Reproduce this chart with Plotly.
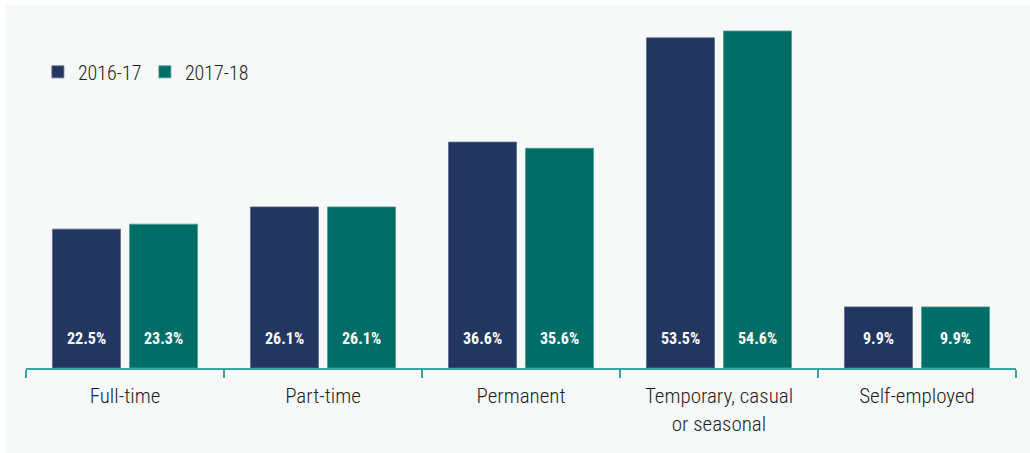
import plotly.graph_objects as go

categories = ["Full-time", "Part-time", "Permanent",
              "Temporary, casual<br>or seasonal", "Self-employed"]
series_names = ["2016-17", "2017-18"]
values_2016_17 = [22.5, 26.1, 36.6, 53.5, 9.9]
values_2017_18 = [23.3, 26.1, 35.6, 54.6, 9.9]

colors = ["#22365f", "#006e67"]
edge_colors = ["#5b6a8c", "#4f9a94"]
axis_color = "#3aa3a3"
panel_color = "#f7f9f9"
font_family = "Roboto Condensed, DejaVu Sans Condensed, sans-serif"

W, H = 1030, 453
margin = dict(l=26, r=14, t=20, b=85)

fig = go.Figure()
for name, vals, col, edge in zip(series_names, [values_2016_17, values_2017_18], colors, edge_colors):
    fig.add_trace(go.Bar(
        x=categories, y=vals, name=name,
        marker=dict(color=col, line=dict(color=edge, width=0.8)),
        hoverinfo="skip",
    ))

# value labels near the foot of each bar
offsets = [-38.5, 38.5]
for vals, dx in zip([values_2016_17, values_2017_18], offsets):
    for cat, v in zip(categories, vals):
        fig.add_annotation(
            x=cat, y=0, xref="x", yref="y", text=f"<b>{v:.1f}%</b>",
            showarrow=False, xshift=dx, yshift=30, yanchor="middle",
            font=dict(family=font_family, size=16, color="white"),
        )

plot_w = W - margin["l"] - margin["r"]
plot_h = H - margin["t"] - margin["b"]

# light background panel
fig.add_shape(
    type="rect", xref="paper", yref="paper", layer="below",
    x0=(6 - margin["l"]) / plot_w, x1=(W - margin["l"]) / plot_w,
    y0=-(H - (H - margin["b"])) / plot_h - 0.01, y1=(H - margin["b"] - 5) / plot_h,
    fillcolor=panel_color, line=dict(width=0),
)

fig.update_layout(
    width=W, height=H, margin=margin,
    paper_bgcolor="white", plot_bgcolor="rgba(0,0,0,0)",
    barmode="group", bargap=0.222, bargroupgap=0.117,
    font=dict(family=font_family, color="#1e1e1e"),
    showlegend=True,
    legend=dict(
        orientation="h", x=0.012, y=0.907, xanchor="left", yanchor="top",
        font=dict(size=20, family=font_family, color="#1e1e1e", weight=300),
        bgcolor="rgba(0,0,0,0)", entrywidth=62, entrywidthmode="pixels",
        traceorder="normal",
    ),
    xaxis=dict(
        showline=True, linecolor=axis_color, linewidth=2,
        ticks="outside", tickson="boundaries", ticklen=8, tickwidth=2,
        tickcolor=axis_color, showgrid=False, ticklabelstandoff=8,
        tickfont=dict(size=21, family=font_family, color="#1e1e1e", weight=300),
    ),
    yaxis=dict(
        range=[0, plot_h / 6.172], visible=False, showgrid=False, zeroline=False,
    ),
)

fig.write_html("out.html")
